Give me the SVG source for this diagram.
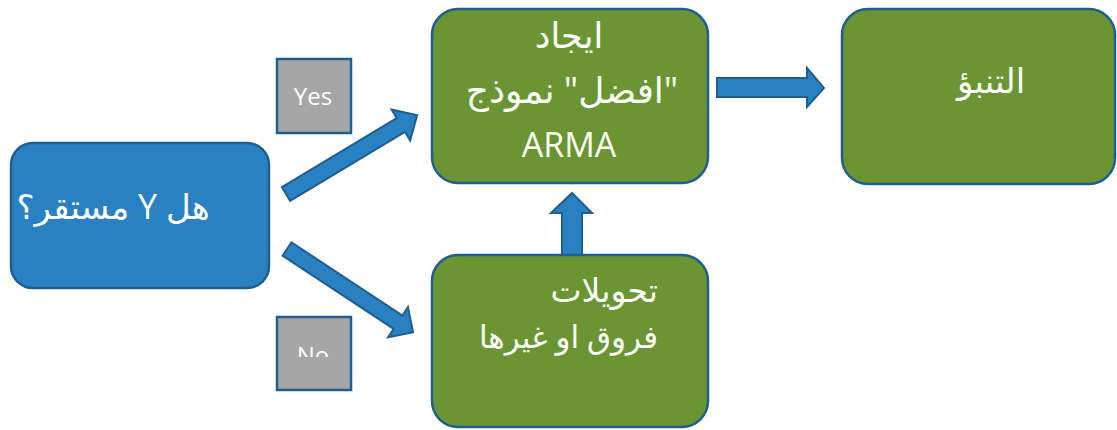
<svg xmlns="http://www.w3.org/2000/svg" width="1117" height="430" viewBox="0 0 1117 430">
<style>
.blue{fill:#2980c2;stroke:#1f5f8f;stroke-width:2.5}
.green{fill:#6a9532;stroke:#1f5f8f;stroke-width:2.5}
.gray{fill:#a6a6a6;stroke:#1f5f8f;stroke-width:2.5}
.arrow{fill:#2980c2;stroke:#1f5f8f;stroke-width:2}
.t{fill:#ffffff;font-family:"Open Sans","DejaVu Sans",sans-serif}
.ar{direction:rtl}
</style>
<defs>
<clipPath id="noclip"><rect x="270" y="300" width="100" height="57"/></clipPath>
</defs>
<g id="connectors">
<polygon class="arrow" points="0,-8 134,-8 134,-18 153,0 134,18 134,8 0,8" transform="translate(286,194) rotate(-31)"/>
<polygon class="arrow" points="0,-8 133,-8 133,-18 151,0 133,18 133,8 0,8" transform="translate(287,249) rotate(33.4)"/>
<polygon class="arrow" points="562,255 562,213 551,213 572,193 592,213 582,213 582,255"/>
<polygon class="arrow" points="717,78 807,78 807,68 824,88 807,107 807,97 717,97"/>
</g>
<g id="node-stationary">
<rect class="blue" x="11" y="143" width="258" height="145" rx="22"/>
<text class="t ar" x="113" y="219" text-anchor="middle" font-size="34">هل Y مستقر؟</text>
</g>
<g id="label-yes">
<rect class="gray" x="277" y="59" width="74" height="74"/>
<text class="t" x="313" y="105" font-size="24" text-anchor="middle">Yes</text>
</g>
<g id="label-no">
<rect class="gray" x="277" y="317" width="74" height="73"/>
<text class="t" x="313" y="364" font-size="24" text-anchor="middle" clip-path="url(#noclip)">No</text>
</g>
<g id="node-arma">
<rect class="green" x="432" y="9" width="276" height="174" rx="26"/>
<text class="t ar" x="569" y="48" text-anchor="middle" font-size="35">ايجاد</text>
<text class="t ar" x="572" y="103" text-anchor="middle" font-size="36">"افضل" نموذج</text>
<text class="t" x="569" y="157" font-size="34" text-anchor="middle">ARMA</text>
</g>
<g id="node-transform">
<rect class="green" x="432" y="255" width="276" height="172" rx="26"/>
<text class="t ar" x="658" y="302" text-anchor="start" font-size="33">تحويلات</text>
<text class="t ar" x="658" y="348" text-anchor="start" font-size="31">فروق او غيرها</text>
</g>
<g id="node-forecast">
<rect class="green" x="842" y="9" width="273" height="175" rx="26"/>
<text class="t ar" x="991" y="93" text-anchor="middle" font-size="34">التنبؤ</text>
</g>
</svg>
